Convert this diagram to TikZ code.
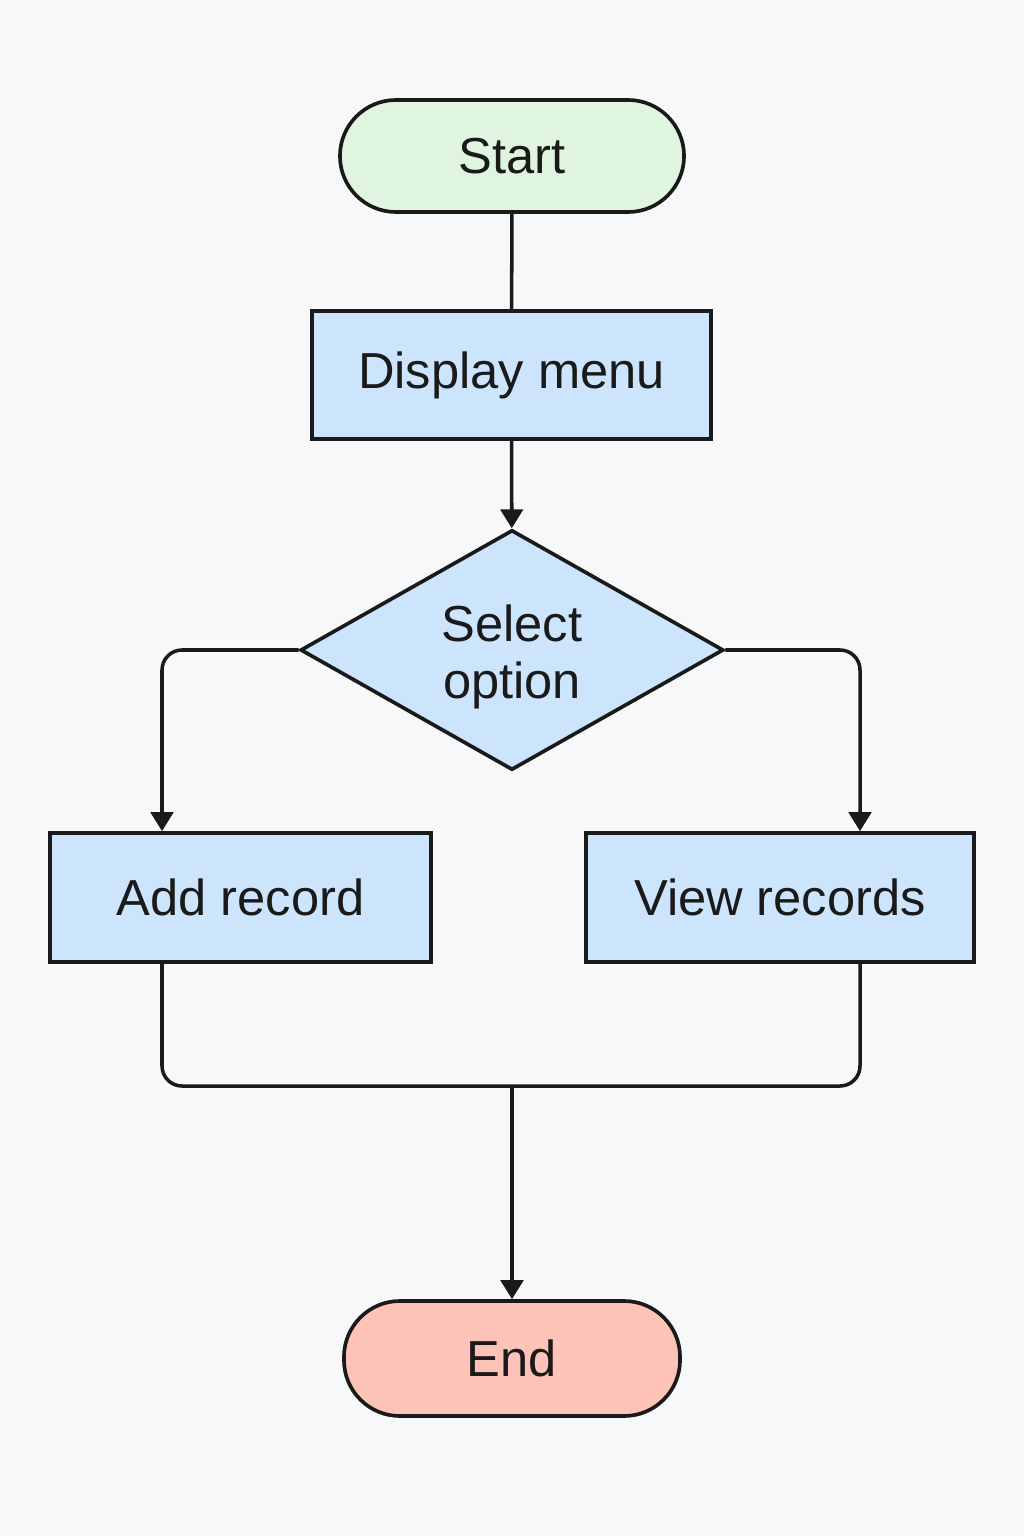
\documentclass[tikz,border=0pt]{standalone}
\usepackage{fontspec}
\setmainfont{Liberation Sans}
\usetikzlibrary{shapes.geometric,arrows.meta}
\definecolor{bgc}{HTML}{F7F8FA}
\definecolor{greenf}{HTML}{DFF5E0}
\definecolor{bluef}{HTML}{CCE5FC}
\definecolor{redf}{HTML}{FDC3B8}
\definecolor{ink}{HTML}{1A1A1A}
\tikzset{
  base/.style={draw=ink, line width=2.6pt, font=\fontsize{36}{42}\selectfont, text=ink, inner sep=0pt, align=center},
  term/.style={base, rounded corners=1.4cm},
  proc/.style={base, fill=bluef},
  dec/.style={base, fill=bluef, shape=diamond, shape aspect=1.76},
  conn/.style={draw=ink, line width=2.5pt, rounded corners=0.5cm},
  arr/.style={conn, -{Triangle[width=16pt,length=13.5pt]}}
}
\begin{document}
\begin{tikzpicture}[x=0.025cm,y=-0.025cm]
\fill[bgc] (0,0) rectangle (1024,1536);
\useasboundingbox (0,0) rectangle (1024,1536);
\node[term, fill=greenf, minimum width=8.6cm, minimum height=2.8cm] (start) at (512,156) {Start};
\node[proc, minimum width=9.975cm, minimum height=3.2cm] (menu) at (511.5,375) {Display menu};
\node[dec, minimum width=10.575cm, minimum height=6cm] (sel) at (512,650) {};
\node[font=\fontsize{36}{41}\selectfont, text=ink, align=center, inner sep=0pt] (seltext) at (512,657) {Select\\option};
\node[proc, minimum width=9.525cm, minimum height=3.225cm] (add) at (240.5,897.5) {Add record};
\node[proc, minimum width=9.7cm, minimum height=3.225cm] (view) at (780,897.5) {View records};
\node[term, fill=redf, minimum width=8.4cm, minimum height=2.875cm] (stop) at (512,1358.5) {End};
\coordinate (cl) at (162,1086);
\coordinate (cr) at (860,1086);
\coordinate (m) at (512,1086);
\draw[conn] (start) -- (menu);
\draw[arr] (menu) -- (sel);
\draw[arr] (sel.west) -| (add.north -| cl);
\draw[arr] (sel.east) -| (view.north -| cr);
\draw[conn] (add.south -| cl) |- (m) -| (view.south -| cr);
\draw[arr] (m) -- (stop);
\end{tikzpicture}
\end{document}
